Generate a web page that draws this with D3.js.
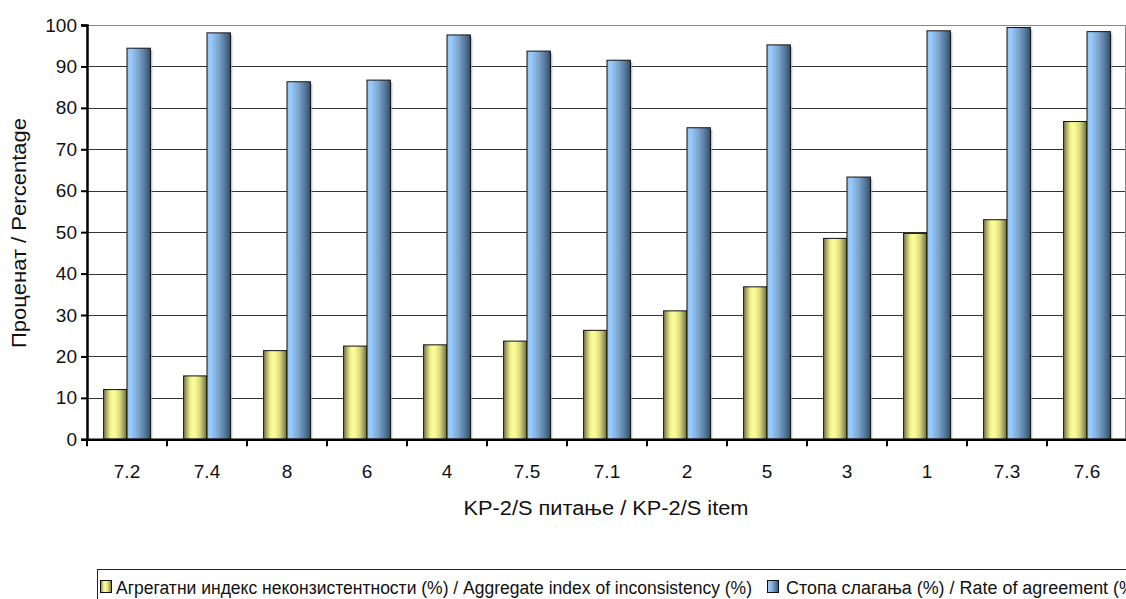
<!DOCTYPE html>
<html>
<head>
<meta charset="utf-8">
<script src="https://cdn.jsdelivr.net/npm/d3@7"></script>
<style>
  html, body { margin: 0; padding: 0; background: #fff; }
  svg { display: block; font-family: "Liberation Sans", Arial, sans-serif; }
</style>
</head>
<body>
<svg id="chart" width="1126" height="599"></svg>
<script>
const categories = ["7.2", "7.4", "8", "6", "4", "7.5", "7.1", "2", "5", "3", "1", "7.3", "7.6"];
const inconsistency = [12.0, 15.3, 21.4, 22.5, 22.8, 23.7, 26.3, 31.0, 36.8, 48.5, 49.7, 53.0, 76.7];
const agreement = [94.4, 98.1, 86.3, 86.7, 97.6, 93.7, 91.5, 75.2, 95.2, 63.3, 98.6, 99.4, 98.4];
const yTicks = [0, 10, 20, 30, 40, 50, 60, 70, 80, 90, 100];
const seriesNames = [
  "Агрегатни индекс неконзистентности (%) / Aggregate index of inconsistency (%)",
  "Стопа слагања (%) / Rate of agreement (%)"
];
const yTitle = "Проценат / Percentage";
const xTitle = "KP-2/S питање / KP-2/S item";

(function () {
const svg = d3.select("#chart");
const pLeft = 87, pRight = 1127, pTop = 25, pBottom = 439.3;
const FONT = "'Liberation Sans', Arial, sans-serif";

const x = d3.scaleBand().domain(categories).range([pLeft, pRight]).paddingInner(0).paddingOuter(0);
const x1 = d3.scaleBand().domain([0, 1]).range([0, x.bandwidth()]).paddingInner(0).paddingOuter(0.71);
const y = d3.scaleLinear().domain([0, 100]).range([pBottom, pTop]);

const defs = svg.append("defs");
function grad(id, stops) {
  const g = defs.append("linearGradient").attr("id", id).attr("x1", "0").attr("x2", "1").attr("y1", "0").attr("y2", "0");
  stops.forEach(s => g.append("stop").attr("offset", s[0]).attr("stop-color", s[1]));
}
grad("gY", [[0, "#7a7a45"], [0.3, "#f5f58f"], [0.45, "#ffff99"], [0.7, "#d8d880"], [1, "#6a6a3a"]]);
grad("gB", [[0, "#8fbff0"], [0.15, "#99ccff"], [0.5, "#7aa3cc"], [0.85, "#4d6a8a"], [1, "#37506b"]]);

// gridlines
svg.append("g").selectAll("line").data(yTicks.filter(d => d > 0)).join("line")
  .attr("x1", pLeft).attr("x2", 1125)
  .attr("y1", d => Math.round(y(d)) + 0.5).attr("y2", d => Math.round(y(d)) + 0.5)
  .attr("stroke", d => d === 100 ? "#888" : "#333").attr("stroke-width", 1);
svg.append("line").attr("x1", 1125.5).attr("x2", 1125.5).attr("y1", pTop).attr("y2", pBottom)
  .attr("stroke", "#888").attr("stroke-width", 1);

const data = categories.map((c, i) => ({ c, vals: [inconsistency[i], agreement[i]] }));
const fills = ["url(#gY)", "url(#gB)"];

const groups = svg.append("g").selectAll("g").data(data).join("g")
  .attr("transform", d => `translate(${x(d.c)},0)`);
groups.selectAll("rect.sh").data(d => d.vals.map((v, k) => ({ v, k }))).join("rect")
  .attr("class", "sh")
  .attr("x", d => x1(d.k) + 2).attr("y", d => y(d.v) + 2)
  .attr("width", x1.bandwidth()).attr("height", d => pBottom - y(d.v) - 2)
  .attr("fill", "#999").attr("opacity", 0.6);
groups.selectAll("rect.bar").data(d => d.vals.map((v, k) => ({ v, k }))).join("rect")
  .attr("class", "bar")
  .attr("x", d => x1(d.k)).attr("y", d => y(d.v))
  .attr("width", x1.bandwidth()).attr("height", d => pBottom - y(d.v))
  .attr("fill", d => fills[d.k]).attr("stroke", "#111").attr("stroke-width", 1);

// y axis
const yAxis = svg.append("g").attr("transform", `translate(${pLeft},0)`)
  .call(d3.axisLeft(y).tickValues(yTicks).tickSize(6).tickPadding(4));
yAxis.select(".domain").attr("stroke", "#000").attr("stroke-width", 2.5);
yAxis.selectAll(".tick line").attr("stroke", "#000").attr("stroke-width", 2);
yAxis.selectAll(".tick text").attr("font-size", 19).attr("fill", "#111").attr("font-family", FONT);

// x axis
const xAxis = svg.append("g").attr("transform", `translate(0,${pBottom})`)
  .call(d3.axisBottom(x).tickSizeOuter(0).tickSize(0).tickPadding(25));
xAxis.select(".domain").attr("stroke", "#000").attr("stroke-width", 2.5);
xAxis.selectAll(".tick text").attr("font-size", 19).attr("fill", "#111").attr("font-family", FONT);
svg.append("g").selectAll("line").data(categories.concat(["end"])).join("line")
  .attr("x1", (d, i) => pLeft + i * x.bandwidth()).attr("x2", (d, i) => pLeft + i * x.bandwidth())
  .attr("y1", pBottom).attr("y2", pBottom + 7)
  .attr("stroke", "#000").attr("stroke-width", 2);

// axis titles
svg.append("text").attr("transform", `translate(26,${233}) rotate(-90)`)
  .attr("text-anchor", "middle").attr("font-size", 20).attr("fill", "#111")
  .attr("textLength", 230).attr("lengthAdjust", "spacingAndGlyphs").text(yTitle);
svg.append("text").attr("x", 606).attr("y", 515)
  .attr("text-anchor", "middle").attr("font-size", 20).attr("fill", "#111")
  .attr("textLength", 285).attr("lengthAdjust", "spacingAndGlyphs").text(xTitle);

// legend
svg.append("rect").attr("x", 97.5).attr("y", 569.5).attr("width", 1100).attr("height", 40)
  .attr("fill", "#fff").attr("stroke", "#222").attr("stroke-width", 1);
const legX = [100, 767], legTextX = [116, 786], legLen = [636, 355];
seriesNames.forEach((n, k) => {
  svg.append("rect").attr("x", legX[k] + 0.5).attr("y", 580.5).attr("width", 11).attr("height", 12)
    .attr("fill", fills[k]).attr("stroke", "#111").attr("stroke-width", 1);
  svg.append("text").attr("x", legTextX[k]).attr("y", 594).attr("font-size", 18).attr("fill", "#111")
    .attr("textLength", legLen[k]).attr("lengthAdjust", "spacingAndGlyphs").text(n);
});
})();
</script>
</body>
</html>
